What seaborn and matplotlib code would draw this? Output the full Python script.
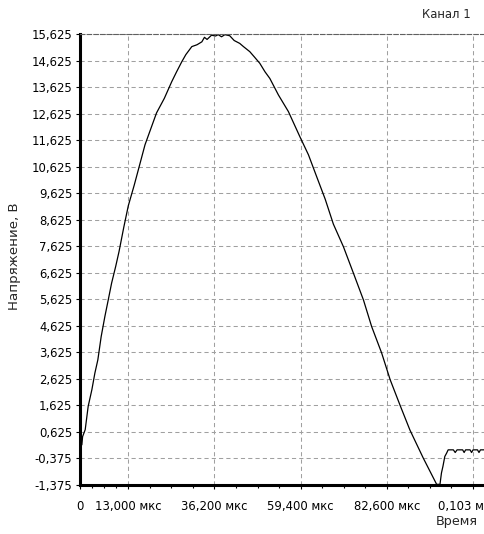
import matplotlib
matplotlib.use("Agg")

import matplotlib.pyplot as plt
import seaborn as sns
import pandas as pd

# time, us
time_us = [0, 0.5, 0.7, 1.4, 2.2, 3.2, 4.0, 4.8, 5.7, 6.7, 7.6, 8.5, 9.6, 10.5,
           11.8, 13.0, 14.6, 15.9, 17.5, 19.1, 20.6, 22.7, 24.7, 26.0, 27.4,
           28.5, 30.1, 31.5, 32.8, 33.5, 34.2, 35.4, 36.5, 37.2, 38.1, 39.0,
           40.3, 41.5, 43.0, 44.0, 45.7, 47.0, 48.4, 49.8, 51.1, 53.4, 56.1,
           59.2, 61.5, 63.7, 66.0, 68.2, 70.9, 73.6, 76.3, 78.5, 81.2, 83.5,
           86.1, 88.8, 92.4, 96.0, 96.9, 97.3, 97.7, 98.2, 98.7, 99.1, 100.5,
           101.0, 101.5, 103.0, 103.4, 103.8, 105.0, 105.4, 105.8, 107.0,
           107.4, 107.8, 109.0]
# voltage, V
voltage = [0.14, 0.14, 0.45, 0.71, 1.59, 2.22, 2.84, 3.34, 4.22, 4.98, 5.6,
           6.23, 6.86, 7.42, 8.35, 9.15, 9.93, 10.61, 11.45, 12.07, 12.65,
           13.2, 13.83, 14.2, 14.58, 14.85, 15.15, 15.22, 15.33, 15.5, 15.42,
           15.58, 15.55, 15.6, 15.52, 15.6, 15.56, 15.38, 15.27, 15.15, 14.96,
           14.75, 14.52, 14.2, 13.95, 13.33, 12.7, 11.75, 11.07, 10.25, 9.4,
           8.46, 7.61, 6.61, 5.6, 4.6, 3.6, 2.59, 1.65, 0.7, -0.36, -1.35,
           -1.35, -0.92, -0.67, -0.3, -0.17, -0.05, -0.05, -0.15, -0.05,
           -0.05, -0.15, -0.05, -0.05, -0.15, -0.05, -0.05, -0.15, -0.05,
           -0.05]

y_ticks = [-1.375 + k for k in range(18)]
y_labels = [f"{v:.3f}".replace(".", ",") for v in y_ticks]
x_ticks = [0, 13.0, 36.2, 59.4, 82.6, 105.8]
x_labels = ["0", "13,000 мкс", "36,200 мкс", "59,400 мкс", "82,600 мкс", "0,103 мс"]
x_minor = [3.25, 6.5, 9.75, 18.8, 24.6, 30.4, 42.0, 47.8, 53.6, 65.2, 71.0,
           76.8, 88.4, 94.2, 100.0]

df = pd.DataFrame({"t": time_us, "u": voltage})

sns.set_style("white")
plt.rcParams["font.family"] = ["DejaVu Sans"]
plt.rcParams["font.size"] = 8.4

fig = plt.figure(figsize=(4.84, 5.34), dpi=100)
ax = fig.add_axes([80 / 484, 49 / 534, 1 - 80 / 484, 451 / 534])

sns.lineplot(data=df, x="t", y="u", ax=ax, color="black", linewidth=0.9,
             estimator=None, sort=False)

ax.set_xlim(0, 108.75)
ax.set_ylim(-1.375, 15.625)
ax.set_yticks(y_ticks)
ax.set_yticklabels(y_labels)
ax.set_xticks(x_ticks)
ax.set_xticklabels(x_labels)
ax.set_xticks(x_minor, minor=True)

ax.grid(True, which="major", color="#a0a0a0", linewidth=0.75,
        linestyle=(0, (4.0, 3.0)))

ax.spines["right"].set_visible(False)
ax.spines["top"].set_linestyle((0, (4.0, 2.0)))
ax.spines["top"].set_color("#606060")
ax.spines["top"].set_linewidth(0.8)
ax.spines["left"].set_linewidth(2.2)
ax.spines["bottom"].set_linewidth(2.2)
ax.spines["left"].set_color("black")
ax.spines["bottom"].set_color("black")

ax.tick_params(axis="y", which="major", direction="out", length=3, width=0.8,
               pad=2.5, left=True, colors="black")
ax.tick_params(axis="x", which="major", direction="out", length=3, width=0.8,
               pad=8, bottom=True, colors="black")
ax.tick_params(axis="x", which="minor", direction="out", length=2.5, width=0.8,
               bottom=True, colors="black")

# last tick label sits a bit to the left in the original
last = ax.get_xticklabels()[-1]
last.set_horizontalalignment("left")
last.set_x(0)
import matplotlib.transforms as mtransforms
last.set_transform(last.get_transform() + mtransforms.ScaledTranslation(
    -35 / 100, 0, fig.dpi_scale_trans))

ax.set_xlabel("")
ax.set_ylabel("")
fig.text(15 / 484, 1 - 256 / 534, "Напряжение, В", rotation=90,
         ha="center", va="center", fontsize=9.6)
fig.text(457 / 484, 1 - 521 / 534, "Время", ha="center", va="center",
         fontsize=9.2)
fig.text(446 / 484, 1 - 15 / 534, "Канал 1", ha="center", va="center",
         fontsize=8.4)

fig.savefig("out.png", dpi=100)
